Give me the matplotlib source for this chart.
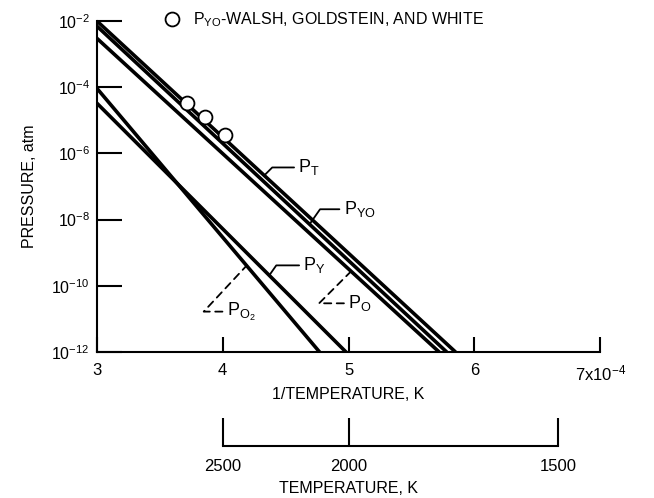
import numpy as np
import matplotlib
matplotlib.use("Agg")
import matplotlib.pyplot as plt

plt.rcParams['font.family'] = ['Liberation Sans', 'DejaVu Sans']
plt.rcParams['mathtext.default'] = 'regular'
plt.rcParams['font.size'] = 11.5

# 1/T in units of 1e-4 1/K, pressure in atm (straight lines on log scale)
invT_T = [3.0, 5.85]
p_T = [1.0e-2, 1e-12]
invT_YO = [3.0, 5.78]
p_YO = [7.0e-3, 1e-12]
invT_O = [3.0, 5.72]
p_O = [3.0e-3, 1e-12]
invT_Y = [3.0, 4.98]
p_Y = [3.3e-5, 1e-12]
invT_O2 = [3.0, 4.77]
p_O2 = [9.3e-5, 1e-12]

# Walsh, Goldstein and White data points
invT_wgw = [3.72, 3.86, 4.02]
p_wgw = [3.3e-5, 1.26e-5, 3.7e-6]

xticks = [3, 4, 5, 6, 7]
xticklabels = ['3', '4', '5', '6', '7x10$^{-4}$']
yticks = [1e-12, 1e-10, 1e-8, 1e-6, 1e-4, 1e-2]
temps = [2500, 2000, 1500]


def p_at(xs, ps, x):
    return 10 ** np.interp(x, xs, np.log10(ps))


fig = plt.figure(figsize=(6.54, 4.98), dpi=100)
ax = fig.add_axes([0.148, 0.293, 0.770, 0.665])

lw = 2.6
for xs, ps in [(invT_T, p_T), (invT_YO, p_YO), (invT_O, p_O),
               (invT_Y, p_Y), (invT_O2, p_O2)]:
    ax.plot(xs, ps, color='black', lw=lw, solid_capstyle='butt')

ax.plot(invT_wgw, p_wgw, 'o', ms=10, mfc='white', mec='black', mew=1.3,
        label='P$_{YO}$-WALSH, GOLDSTEIN, AND WHITE', clip_on=False, zorder=5)

ax.set_yscale('log')
ax.set_xlim(3, 7)
ax.set_ylim(1e-12, 1e-2)
ax.set_xticks(xticks)
ax.set_xticklabels(xticklabels)
ax.set_yticks(yticks)
ax.minorticks_off()
ax.tick_params(axis='x', direction='in', length=11, width=1.5, pad=8,
               labelsize=12)
ax.tick_params(axis='y', direction='in', length=18, width=1.5, pad=5)
for s in ['top', 'right']:
    ax.spines[s].set_visible(False)
for s in ['left', 'bottom']:
    ax.spines[s].set_linewidth(1.5)
ax.set_xlabel('1/TEMPERATURE, K', labelpad=3)
ax.set_ylabel('PRESSURE, atm', labelpad=10)

ax.legend(loc='center left', bbox_to_anchor=(0.105, 1.003), frameon=False,
          handletextpad=0.3, borderaxespad=0, fontsize=11.5)

# leader labels
solid = dict(arrowstyle='-', lw=1.3, color='black', shrinkA=1, shrinkB=0,
             relpos=(0, 0.5))
dashed = dict(solid, linestyle=(0, (4, 3)))

def label(text, xs, ps, x, dx, dy, ang, props):
    props = dict(props, connectionstyle='angle,angleA=0,angleB=%d' % ang)
    ax.annotate(text, xy=(x, p_at(xs, ps, x)), xytext=(dx, dy),
                textcoords='offset pixels', ha='left', va='center',
                fontsize=13, arrowprops=props)

label('P$_T$', invT_T, p_T, 4.33, 34, 8, 45, solid)
label('P$_{YO}$', invT_YO, p_YO, 4.69, 34, 15, 55, solid)
label('P$_Y$', invT_Y, p_Y, 4.37, 34, 10, 55, solid)
label('P$_{O_2}$', invT_O2, p_O2, 4.19, -20, -46, 47, dashed)
label('P$_O$', invT_O, p_O, 5.02, -3, -32, 45, dashed)

# temperature scale
ax2 = fig.add_axes([0.148, 0.104, 0.770, 0.056])
ax2.set_xlim(3, 7)
ax2.set_ylim(0, 1)
tpos = [1e4 / t for t in temps]
ax2.set_xticks(tpos)
ax2.set_xticklabels([str(t) for t in temps])
ax2.set_yticks([])
for s in ['top', 'right', 'left']:
    ax2.spines[s].set_visible(False)
ax2.spines['bottom'].set_bounds(tpos[0], tpos[-1])
ax2.spines['bottom'].set_linewidth(1.5)
ax2.patch.set_alpha(0)
ax2.tick_params(axis='x', direction='in', length=20, width=1.5, pad=9,
                labelsize=12)
ax2.set_xlabel('TEMPERATURE, K', labelpad=5)

fig.savefig('out.png', dpi=100)
